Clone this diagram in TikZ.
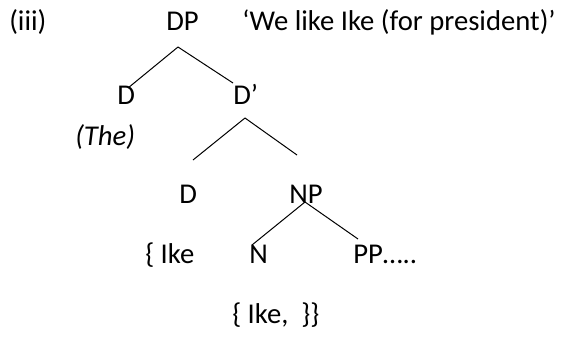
\documentclass[tikz,border=0pt]{standalone}
\usepackage{fontspec}
\setmainfont{Carlito}
\tikzset{lbl/.style={anchor=base west,inner sep=0pt,font=\fontsize{21.5}{26}\selectfont},
  branch/.style={line width=0.75}}
\begin{document}
\begin{tikzpicture}[x=0.75pt,y=0.75pt,yscale=-1,xscale=1]
\useasboundingbox (0,0) rectangle (567,336);

% Text Node
\node [lbl] (num) at (9,30) {(iii)};
% Text Node
\node [lbl] (dp) at (166,30) {DP};
% Text Node
\node [lbl] (gloss) at (242,30) {‘We like Ike (for president)’};
% Text Node
\node [lbl] (d) at (117,104) {D};
% Text Node
\node [lbl] (dbar) at (233,104) {D’};
% Text Node
\node [lbl] (the) at (75,145) {\itshape (The)};
% Text Node
\node [lbl] (dlow) at (179,203) {D};
% Text Node
\node [lbl] (np) at (289,203) {NP};
% Text Node
\node [lbl] (ikeset) at (145,263) {\{ Ike};
% Text Node
\node [lbl] (n) at (249,263) {N};
% Text Node
\node [lbl] (pp) at (353,263) {PP…..};
% Text Node
\node [lbl] (ikepair) at (232,323) {\{ Ike,~ \}\}};

%Branch points
\coordinate (dpfoot) at (178,47);
\coordinate (dtop) at (128,88);
\coordinate (dbartop) at (233,83);
\coordinate (dbarfoot) at (245,118);
\coordinate (dlowtop) at (193,160);
\coordinate (nptop) at (297,155);
\coordinate (npfoot) at (305,202);
\coordinate (ntop) at (252,245);
\coordinate (pptop) at (358,239);

%Straight Lines
\draw [branch] (dpfoot) -- (dtop);
\draw [branch] (dpfoot) -- (dbartop);
%Straight Lines
\draw [branch] (dbarfoot) -- (dlowtop);
\draw [branch] (dbarfoot) -- (nptop);
%Straight Lines
\draw [branch] (npfoot) -- (ntop);
\draw [branch] (npfoot) -- (pptop);

\end{tikzpicture}
\end{document}
